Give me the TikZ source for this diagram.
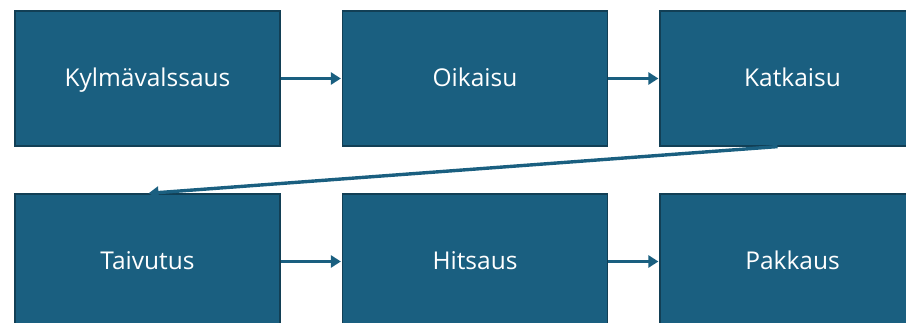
\documentclass[tikz,border=0pt]{standalone}
\usepackage{fontspec}
\setmainfont{Open Sans}
\usetikzlibrary{arrows.meta}
\definecolor{boxblue}{HTML}{1A5F80}
\definecolor{boxedge}{HTML}{123F55}
\tikzset{
  stage/.style={rectangle, fill=boxblue, draw=boxedge, line width=1.2pt,
    minimum width=265pt, minimum height=135pt, inner sep=0pt,
    text height=20pt, text depth=3pt,
    text=white, font=\fontsize{24.5}{28}\selectfont},
  flow/.style={draw=boxblue, line width=3.4pt,
    -{Triangle[length=10pt,width=12pt]}, shorten >=1pt}
}
\begin{document}
\begin{tikzpicture}[x=1pt,y=1pt]
  \useasboundingbox (0,0) rectangle (906,-323);
  \begin{scope}
    \clip (0,0) rectangle (906,-323);
    \node[stage] (kyl) at (147.5,-78.5) {Kylmävalssaus};
    \node[stage] (oik) at (475,-78.5) {Oikaisu};
    \node[stage] (kat) at (792.5,-78.5) {Katkaisu};
    \node[stage] (tai) at (147.5,-261.5) {Taivutus};
    \node[stage] (hit) at (475,-261.5) {Hitsaus};
    \node[stage] (pak) at (792.5,-261.5) {Pakkaus};
    \draw[flow] (kyl) -- (oik);
    \draw[flow] (oik) -- (kat);
    \draw[flow] ([xshift=-15pt]kat.south) -- (tai.north);
    \draw[flow] (tai) -- (hit);
    \draw[flow] (hit) -- (pak);
  \end{scope}
\end{tikzpicture}
\end{document}
